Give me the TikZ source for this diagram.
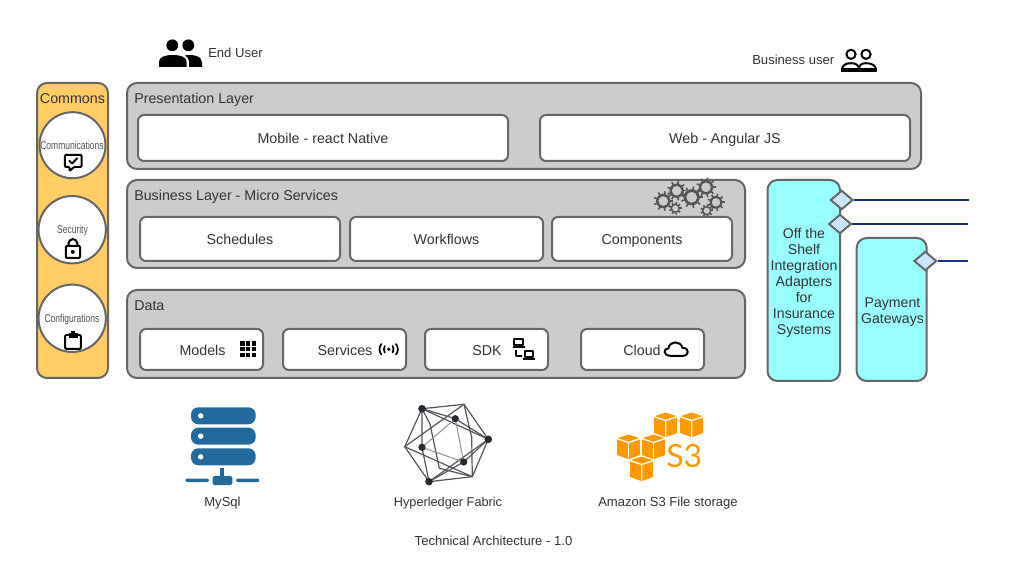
\documentclass[tikz,border=0pt]{standalone}
\usepackage{fontspec}
\usepackage{graphicx}
\setmainfont{Liberation Sans}
\newfontfamily\sthree{Lato}
\usetikzlibrary{shapes.geometric}
\definecolor{edgegray}{HTML}{666666}
\definecolor{panelgray}{HTML}{CCCCCC}
\definecolor{commonsfill}{HTML}{FFCC66}
\definecolor{cyanfill}{HTML}{99FFFF}
\definecolor{diamondfill}{HTML}{CCE5FF}
\definecolor{navyline}{HTML}{1A2F80}
\definecolor{txt}{HTML}{333333}
\definecolor{serverblue}{HTML}{23699C}
\definecolor{awsorange}{HTML}{FF9900}
\definecolor{gearcol}{HTML}{555555}
\definecolor{hexdark}{HTML}{2A2A33}
\tikzset{
  panel/.style={draw=edgegray,line width=1.5pt,fill=panelgray,rounded corners=7.5pt,inner sep=0pt},
  whitebox/.style={draw=edgegray,line width=1.5pt,fill=white,rounded corners=4.5pt,inner sep=0pt,text=txt,text height=7.7pt,text depth=0pt,font=\fontsize{10.7}{12}\selectfont},
  commonsbox/.style={draw=edgegray,line width=1.5pt,fill=commonsfill,rounded corners=7.5pt,inner sep=0pt},
  cyanbox/.style={draw=edgegray,line width=1.5pt,fill=cyanfill,rounded corners=7.5pt,inner sep=0pt},
  roundel/.style={circle,draw=edgegray,line width=1.5pt,fill=white,inner sep=0pt,minimum size=49.5pt},
  port/.style={diamond,draw=edgegray,line width=1.5pt,fill=diamondfill,inner sep=0pt,minimum width=17pt,minimum height=14.5pt},
  portline/.style={draw=navyline,line width=1.1pt},
  label/.style={inner sep=0pt,text=txt,text height=7.7pt,text depth=0pt,font=\fontsize{10.7}{12}\selectfont},
  smalllabel/.style={inner sep=0pt,text=txt,text height=7pt,text depth=0pt,font=\fontsize{9.8}{11}\selectfont},
  narrowlabel/.style={inner sep=0pt,text=txt!85,text height=6pt,text depth=0pt,font=\fontsize{8.5}{10}\selectfont},
  sidelabel/.style={inner sep=0pt,text=txt,text height=7.7pt,text depth=0pt,align=center,font=\fontsize{10.6}{12}\selectfont},
  icon/.style={draw=black,line width=1.5pt,line join=round},
  hexline/.style={draw=hexdark!80,line width=0.9pt},
  hexlight/.style={draw=hexdark!50,line width=0.8pt},
  hexdot/.style={fill=hexdark,draw=none},
  awsface/.style={fill=awsorange,draw=none},
}
\newcommand{\pxbox}[7]{%
  \node[#2,anchor=center,minimum width={(#5-#3)*0.75pt},minimum height={(#6-#4)*0.75pt}] (#1) at ({(#3+#5)/2},{(#4+#6)/2}) {#7};}
\newcommand{\narrow}[1]{\scalebox{0.75}[1]{#1}}
\newcommand{\gearat}[3]{%
  \fill[gearcol,even odd rule] (#1,#2) circle ({#3*0.85}) (#1,#2) circle ({#3*0.58});
  \foreach \a in {0,40,...,320}{%
    \draw[gearcol,line width=1.2pt] (#1,#2)++(\a:{#3*0.75}) -- ++(\a:{#3*0.4});}
}
\newcommand{\cube}[2]{%
  \fill[awsface] (#1,#2) -- ++(10.8,3.6) -- ++(-10.8,3.6) -- ++(-10.8,-3.6) -- cycle;
  \fill[awsface] ({#1-11.5},{#2+5}) -- ({#1-0.7},{#2+8.6}) -- ({#1-0.7},{#2+24.5}) -- ({#1-11.5},{#2+20.5}) -- cycle;
  \fill[awsface] ({#1+11.5},{#2+5}) -- ({#1+0.7},{#2+8.6}) -- ({#1+0.7},{#2+24.5}) -- ({#1+11.5},{#2+20.5}) -- cycle;
}
\begin{document}
\begin{tikzpicture}[x=0.75pt,y=-0.75pt]
\useasboundingbox (0,0) rectangle (1026,563);
\fill[white] (0,0) rectangle (1026,563);

% Commons column
\pxbox{commons}{commonsbox}{37}{83}{108}{378}{}
\node[label] (commonstitle) at (72.5,98) {Commons};
\node[roundel] (comm) at (72.5,145.2) {};
\node[roundel,minimum size=50.5pt] (sec) at (72.2,229.7) {};
\node[roundel,minimum size=50.5pt] (conf) at (72.2,318.3) {};
\node[narrowlabel] (commt) at (72,146) {\narrow{Communications}};
\node[narrowlabel] (sect) at (72.5,230) {\narrow{Security}};
\node[narrowlabel] (conft) at (72,319) {\narrow{Configurations}};
% chat check icon
\draw[icon,rounded corners=0.8pt] (64.8,154.8) -- (81.5,154.8) -- (81.5,167) -- (74,167) -- (69.5,171.2) -- (69.5,167) -- (64.8,167) -- cycle;
\draw[icon] (69,160.5) -- (72,163.5) -- (77.5,158);
% lock icon
\draw[icon,rounded corners=0.8pt] (65.8,245.8) rectangle (80,258);
\draw[icon] (68.5,245.5) -- (68.5,243.5) arc (180:360:4.4) -- (77.3,245.5);
\fill[black] (72.8,251.8) circle (2);
% clipboard icon
\draw[icon,rounded corners=0.8pt] (65.2,335) rectangle (80.8,349);
\fill[black] (68.5,333) rectangle (77.5,337.8);
\fill[black] (71,331.3) rectangle (75,334);

% User icons
\fill[black] (172.3,45.3) circle (5.9) (188.3,45.3) circle (5.9);
\fill[black] (159,67) -- (159,62) .. controls (159,57) and (165,55) .. (172.8,55) .. controls (180.5,55) and (186.7,57) .. (186.7,62) -- (186.7,67) -- cycle;
\fill[black] (189,67) -- (189,61.5) .. controls (189,59) and (187.5,57) .. (185,55.5) .. controls (192,54) and (202,56) .. (202,62) -- (202,67) -- cycle;
\node[smalllabel,anchor=west] (enduser) at (208,52.5) {End User};

\node[smalllabel,anchor=west] (bizuser) at (752,60) {Business user};
\draw[icon] (851,54.3) circle (4.6) (866,54.3) circle (4.6);
\draw[icon] (842,70) .. controls (842,65) and (846,63.2) .. (851,63.2) .. controls (856,63.2) and (859,65) .. (859,70);
\draw[icon] (859,70) .. controls (859,65) and (861,63.2) .. (866,63.2) .. controls (871,63.2) and (876,65) .. (876,70);
\fill[black] (841,68.2) rectangle (877,71.8);

% Presentation
\pxbox{pres}{panel}{127}{83}{921}{169}{}
\node[label,anchor=west] (prest) at (134,98) {Presentation Layer};
\pxbox{mobile}{whitebox}{138}{115}{508}{161}{Mobile - react Native}
\pxbox{web}{whitebox}{540}{115}{910}{161}{Web - Angular JS}

% Business
\pxbox{biz}{panel}{127}{180}{745}{268}{}
\node[label,anchor=west] (bizt) at (134,195) {Business Layer - Micro Services};
\pxbox{sched}{whitebox}{140}{217}{340}{261}{Schedules}
\pxbox{work}{whitebox}{350}{217}{543}{261}{Workflows}
\pxbox{comp}{whitebox}{552}{217}{732}{261}{Components}
\gearat{663.3}{201}{8.5}
\gearat{676.7}{190.7}{8.5}
\gearat{691.7}{197.3}{9.5}
\gearat{706}{187.3}{8.5}
\gearat{716}{202.3}{7.5}
\gearat{675.3}{208.3}{5.5}
\gearat{706.7}{210.7}{5.5}

% Data
\pxbox{data}{panel}{127}{290}{745}{378}{}
\node[label,anchor=west] (datat) at (134,305) {Data};
\pxbox{models}{whitebox}{140}{329}{263}{370}{}
\pxbox{services}{whitebox}{283}{329}{406}{370}{}
\pxbox{sdk}{whitebox}{425}{329}{548}{370}{}
\pxbox{cloud}{whitebox}{581}{329}{704}{370}{}
\node[label] (modelst) at (202.5,350) {Models};
\node[label] (servicest) at (345,350) {Services};
\node[label] (sdkt) at (487,350) {SDK};
\node[label] (cloudt) at (642,350) {Cloud};
% grid icon
\foreach \i in {0,1,2}{\foreach \j in {0,1,2}{
  \fill[black] ({240+\i*5.8},{341+\j*5.8}) rectangle ++(4.6,4.6);}}
% broadcast icon
\fill[black] (388.7,349.3) circle (1.9);
\draw[icon,line width=1.3pt,line cap=round] (384.8,346) .. controls (383.5,348) and (383.5,350.6) .. (384.8,352.6);
\draw[icon,line width=1.3pt,line cap=round] (392.6,346) .. controls (393.9,348) and (393.9,350.6) .. (392.6,352.6);
\draw[icon,line width=1.3pt,line cap=round] (381.4,344) .. controls (378.9,347) and (378.9,351.6) .. (381.4,354.6);
\draw[icon,line width=1.3pt,line cap=round] (396,344) .. controls (398.5,347) and (398.5,351.6) .. (396,354.6);
% SDK laptops
\draw[icon] (514.3,339) rectangle (523,345);
\draw[icon] (513,347) -- (524.5,347);
\draw[icon] (525,351) rectangle (533.3,356.6);
\draw[icon] (523,358.6) -- (535,358.6);
\draw[icon] (516,350) -- (516,355.7) -- (521.7,355.7);
% cloud icon
\draw[icon] (670.5,355.8) .. controls (663,355.8) and (663,348.5) .. (668.5,348.3) .. controls (669.5,340.5) and (681,340.5) .. (682.5,348) .. controls (689.5,347.5) and (689.5,355.8) .. (683,355.8) -- cycle;

% Side boxes
\pxbox{offshelf}{cyanbox}{767.5}{180}{840}{381}{}
\pxbox{payment}{cyanbox}{856.7}{238}{926.7}{381}{}
\node[sidelabel] (offt) at (804,233) {Off the};
\node[sidelabel] (offt2) at (804,249) {Shelf};
\node[sidelabel] (offt3) at (804,265) {Integration};
\node[sidelabel] (offt4) at (804,281) {Adapters};
\node[sidelabel] (offt5) at (804,297) {for};
\node[sidelabel] (offt6) at (804,313) {Insurance};
\node[sidelabel] (offt7) at (804,329) {Systems};
\node[sidelabel] (payt) at (892.5,302) {Payment};
\node[sidelabel] (payt2) at (892.5,318) {Gateways};
\node[port] (d1) at (841.7,200) {};
\node[port] (d2) at (840,224) {};
\node[port] (d3) at (925.3,261) {};
\coordinate (e1) at (969,200);
\coordinate (e2) at (968,224);
\coordinate (e3) at (968,261);
\draw[portline] (d1.east) -- (e1);
\draw[portline] (d2.east) -- (e2);
\draw[portline] (d3.east) -- (e3);

% MySql server icon
\foreach \t in {407.3,427.7,448.3}{
  \fill[serverblue,rounded corners=5.5pt] (191,\t) rectangle (255.7,{\t+17});
  \fill[white] (200.7,{\t+8.5}) circle (2.7);}
\fill[serverblue] (220,468.3) rectangle (224.3,477);
\fill[serverblue,rounded corners=1pt] (212.7,476) rectangle (232.3,485);
\fill[serverblue,rounded corners=1.5pt] (185.3,478.5) rectangle (209,482);
\fill[serverblue,rounded corners=1.5pt] (236,478.5) rectangle (259.3,482);
\node[smalllabel] (mysql) at (222.5,501.5) {MySql};

% Hyperledger icon
\coordinate (ha) at (422,408.7);
\coordinate (hb) at (464,404.3);
\coordinate (hc) at (488.3,439.3);
\coordinate (hd) at (472.3,476.7);
\coordinate (he) at (429,481.7);
\coordinate (hf) at (404.7,446.7);
\coordinate (hp) at (455.3,418.7);
\coordinate (hq) at (422,447.3);
\coordinate (hr) at (463.7,462);
\coordinate (hg) at (430,424);
\coordinate (hh) at (471.7,437.3);
\coordinate (hi) at (439.3,468.3);
\draw[hexline] (ha) -- (hb) -- (hc) -- (hd) -- (he) -- (hf) -- cycle;
\draw[hexline] (ha) -- (hc) -- (he);
\draw[hexline] (hb) -- (hf) -- (hd);
\draw[hexline] (hb) -- (hh) -- (hd);
\draw[hexline] (ha) -- (hg) -- (hi) -- (hd);
\draw[hexlight] (hp) -- (hq) -- (hr) -- cycle;
\draw[hexline] (ha) -- (hp) (ha) -- (hq) -- (he) (hp) -- (hc) (hr) -- (hc) (hr) -- (he);
\foreach \c/\r in {ha/3.8,hc/3.8,he/3.8,hp/3.6,hq/3.6,hr/3.6}{\fill[hexdot] (\c) circle (\r);}
\node[smalllabel,font=\fontsize{9.55}{11}\selectfont] (hyper) at (448,501.5) {Hyperledger Fabric};

% S3 icon
\cube{665.7}{412.5}
\cube{691.7}{412.5}
\cube{628.5}{434.5}
\cube{653.5}{434.5}
\cube{641.7}{456.5}
\node[inner sep=0pt,text=awsorange,font=\sthree\fontsize{24}{28}\selectfont] (s3) at (684.3,456.5) {S3};
\node[smalllabel] (amazon) at (668,501.5) {Amazon S3 File storage};

\node[smalllabel] (title) at (493.5,540.5) {Technical Architecture - 1.0};
\end{tikzpicture}
\end{document}
